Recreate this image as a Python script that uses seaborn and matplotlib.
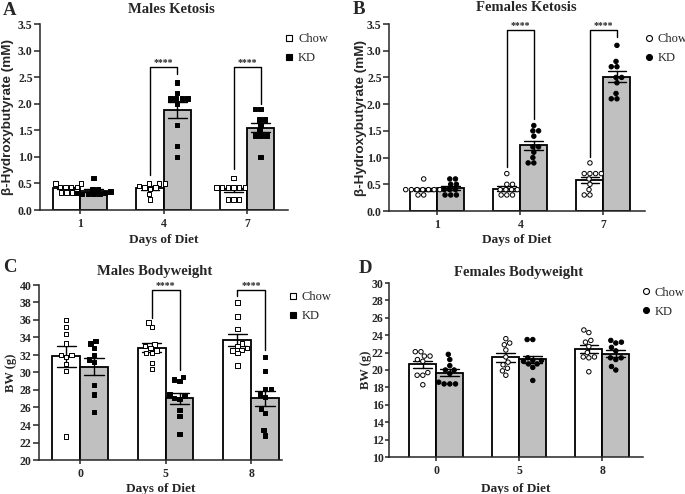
import matplotlib
matplotlib.use("Agg")
import matplotlib.pyplot as plt
import matplotlib.transforms as mtransforms
from matplotlib.lines import Line2D
from matplotlib.ticker import FormatStrFormatter
import pandas as pd
import seaborn as sns

groups = ["Chow", "KD"]

# A - males ketosis, beta-hydroxybutyrate (mM)
male_ket_days = ["1", "4", "7"]
male_ket_chow = [
    [0.5, 0.5, 0.43, 0.43, 0.43, 0.43, 0.33, 0.33, 0.33],
    [0.5, 0.5, 0.5, 0.45, 0.42, 0.42, 0.4, 0.3, 0.2],
    [0.6, 0.42, 0.42, 0.42, 0.42, 0.42, 0.42, 0.2, 0.2, 0.2],
]
male_ket_kd = [
    [0.6, 0.4, 0.4, 0.35, 0.32, 0.32, 0.3, 0.3, 0.3, 0.3],
    [2.4, 2.2, 2.1, 2.1, 2.1, 2.1, 2.0, 1.6, 1.2, 1.0],
    [1.9, 1.9, 1.7, 1.7, 1.6, 1.5, 1.4, 1.4, 1.4, 1.0],
]

# B - females ketosis
female_ket_days = ["1", "4", "7"]
female_ket_chow = [
    [0.6, 0.4, 0.4, 0.4, 0.4, 0.4, 0.4, 0.4, 0.3, 0.3],
    [0.7, 0.5, 0.5, 0.4, 0.4, 0.4, 0.4, 0.3, 0.3, 0.3],
    [0.9, 0.7, 0.7, 0.7, 0.7, 0.6, 0.5, 0.4, 0.3, 0.3],
]
female_ket_kd = [
    [0.6, 0.6, 0.5, 0.5, 0.4, 0.4, 0.4, 0.3, 0.3, 0.3],
    [1.6, 1.5, 1.5, 1.4, 1.2, 1.2, 1.1, 1.0, 0.9, 0.9],
    [3.1, 2.8, 2.7, 2.7, 2.5, 2.5, 2.4, 2.2, 2.1, 2.1],
]

# C - males bodyweight (g)
male_bw_days = ["0", "5", "8"]
male_bw_chow = [
    [36.0, 35.2, 34.4, 33.3, 32.0, 32.0, 31.8, 31.0, 30.2, 22.7],
    [35.7, 35.2, 33.2, 33.0, 32.8, 32.5, 32.2, 32.2, 31.1, 30.4],
    [38.0, 36.4, 35.0, 33.3, 33.0, 32.8, 32.6, 32.5, 32.2, 30.8],
]
male_bw_kd = [
    [33.6, 33.3, 32.8, 32.0, 31.5, 31.2, 28.6, 27.5, 25.5],
    [29.5, 29.2, 29.0, 27.5, 27.3, 27.1, 27.0, 25.7, 25.0, 23.0],
    [31.8, 30.2, 28.1, 28.1, 27.5, 27.2, 25.8, 25.4, 23.4, 22.8],
]

# D - females bodyweight (g)
female_bw_days = ["0", "5", "8"]
female_bw_chow = [
    [22.1, 22.1, 21.6, 21.6, 21.2, 21.0, 19.7, 19.4, 19.4, 18.3],
    [23.6, 23.1, 22.9, 22.3, 21.5, 20.9, 20.6, 20.2, 19.9, 19.4],
    [24.6, 24.3, 23.4, 23.2, 22.7, 22.0, 21.5, 21.4, 21.5, 19.8],
]
female_bw_kd = [
    [21.8, 21.2, 20.5, 20.0, 20.0, 19.6, 18.6, 18.4, 18.4, 18.4],
    [23.5, 23.5, 21.4, 21.1, 21.1, 21.0, 20.7, 20.7, 20.3, 18.8],
    [23.4, 23.2, 23.1, 22.6, 22.2, 21.4, 21.4, 21.2, 20.4, 20.0],
]

# significance brackets: (day index, bracket top, chow foot, kd foot)
male_ket_sig = [(1, 2.69, 0.65, 2.55), (2, 2.69, 0.78, 2.0)]
female_ket_sig = [(1, 3.39, 0.82, 1.73), (2, 3.39, 1.01, 3.26)]
male_bw_sig = [(1, 39.4, 36.2, 30.3), (2, 39.4, 38.7, 32.6)]

BAR_W = 0.65
SERIF = "Liberation Serif"

sns.set_style("ticks")
plt.rcParams["font.family"] = [SERIF, "DejaVu Serif"]
plt.rcParams["font.weight"] = "bold"
plt.rcParams["axes.linewidth"] = 1.1


def make_df(days, chow, kd):
    rows = []
    for day, c_vals, k_vals in zip(days, chow, kd):
        rows += [(day, "Chow", v) for v in c_vals]
        rows += [(day, "KD", v) for v in k_vals]
    return pd.DataFrame(rows, columns=["day", "diet", "value"])


def draw_panel(ax, df, days, marker, ylim, ystep, fmt, brackets, title, title_x, title_pad,
               leg_xy, xlim, ytick_len):
    sns.barplot(data=df, x="day", y="value", hue="diet", order=days, hue_order=groups,
                palette={"Chow": "white", "KD": "#c0c0c0"}, width=BAR_W, errorbar="se",
                capsize=0.45, err_kws={"color": "black", "linewidth": 1.0},
                edgecolor="black", linewidth=1.3, legend=False, ax=ax)
    n_before = len(ax.collections)
    sns.swarmplot(data=df, x="day", y="value", hue="diet", order=days, hue_order=groups,
                  palette={"Chow": "white", "KD": "black"}, dodge=True, marker=marker,
                  size=3.2, edgecolor="black", linewidth=0.7, legend=False,
                  warn_thresh=1, ax=ax)
    # seaborn dodges the points for a width of 0.8, pull them onto the bar centres
    shift = (0.8 - BAR_W) / 4
    for coll in ax.collections[n_before:]:
        fc = coll.get_facecolor()
        if len(fc) == 0:
            continue
        dx = shift if fc[0][0] > 0.5 else -shift
        coll.set_offset_transform(mtransforms.Affine2D().translate(dx, 0) + ax.transData)

    off = BAR_W / 4
    for i, top, left, right in brackets:
        ax.plot([i - off, i - off, i + off, i + off], [left, top, top, right],
                color="black", lw=1.0, clip_on=False)
        ax.annotate("****", (i, top), xytext=(0, 1.5), textcoords="offset points",
                    ha="center", va="baseline", fontsize=7, fontweight="bold")

    ax.set_ylim(*ylim)
    ax.set_yticks([ylim[0] + k * ystep for k in range(int(round((ylim[1] - ylim[0]) / ystep)) + 1)])
    ax.yaxis.set_major_formatter(FormatStrFormatter(fmt))
    ax.set_xlim(*xlim)
    ax.tick_params(axis="x", labelsize=8.5, length=3, width=1.1, pad=2.5)
    ax.tick_params(axis="y", labelsize=8.5, length=ytick_len, width=1.1, pad=0.8)
    sns.despine(ax=ax)
    ax.set_title(title, fontsize=10.5, fontweight="bold", x=title_x, pad=title_pad)
    ax.set_xlabel("Days of Diet", fontsize=9.5, fontweight="bold")

    handles = [Line2D([], [], ls="", marker=marker, ms=4.3, mfc=c, mec="black", mew=0.8)
               for c in ("white", "black")]
    ax.legend(handles, groups, loc="center left", bbox_to_anchor=leg_xy, frameon=False,
              handlelength=0.6, handletextpad=0.4, labelspacing=0.55, borderaxespad=0,
              borderpad=0, prop={"family": SERIF, "weight": "normal", "size": 9})


W, H = 685, 494
fig = plt.figure(figsize=(W / 100, H / 100), dpi=100)


def px_axes(left, top, right, bottom):
    return fig.add_axes([left / W, 1 - bottom / H, (right - left) / W, (bottom - top) / H])


axA = px_axes(40, 24, 288, 210)
axB = px_axes(389, 24, 645, 211)
axC = px_axes(39, 285, 282, 460)
axD = px_axes(389, 283, 643, 457)

draw_panel(axA, make_df(male_ket_days, male_ket_chow, male_ket_kd), male_ket_days, "s",
           (0, 3.5), 0.5, "%.1f", male_ket_sig, "Males Ketosis", 0.53, 8, (0.99, 0.866),
           (-0.48, 2.49), 4.5)
draw_panel(axB, make_df(female_ket_days, female_ket_chow, female_ket_kd), female_ket_days, "o",
           (0, 3.5), 0.5, "%.1f", female_ket_sig, "Females Ketosis", 0.535, 9.4, (1.0, 0.869),
           (-0.58, 2.5), 4.5)
draw_panel(axC, make_df(male_bw_days, male_bw_chow, male_bw_kd), male_bw_days, "s",
           (20, 40), 2, "%d", male_bw_sig, "Males Bodyweight", 0.475, 7.2, (1.03, 0.877),
           (-0.48, 2.36), 4.5)
draw_panel(axD, make_df(female_bw_days, female_bw_chow, female_bw_kd), female_bw_days, "o",
           (10, 30), 2, "%d", [], "Females Bodyweight", 0.51, 5, (0.996, 0.89),
           (-0.57, 2.49), 3)

for ax in (axA, axB):
    ax.set_ylabel("β-Hydroxybutyrate (mM)", fontsize=9.7, fontweight="bold",
                  family=["Liberation Sans", "DejaVu Sans"])
for ax in (axC, axD):
    ax.set_ylabel("BW (g)", fontsize=9, fontweight="bold")

axA.yaxis.set_label_coords(-0.105, 0.5)
axB.yaxis.set_label_coords(-0.086, 0.5)
axC.yaxis.set_label_coords(-0.09, 0.5)
axD.yaxis.set_label_coords(-0.067, 0.5)
axA.xaxis.set_label_coords(0.5, -0.129)
axB.xaxis.set_label_coords(0.5, -0.123)
axC.xaxis.set_label_coords(0.5, -0.131)
axD.xaxis.set_label_coords(0.5, -0.149)

for letter, x, y in [("A", 3, 15), ("B", 353, 14), ("C", 3, 272), ("D", 359, 273)]:
    fig.text(x / W, 1 - y / H, letter, fontsize=13.5, fontweight="bold", ha="left", va="baseline")

fig.savefig("out.png", dpi=100)
